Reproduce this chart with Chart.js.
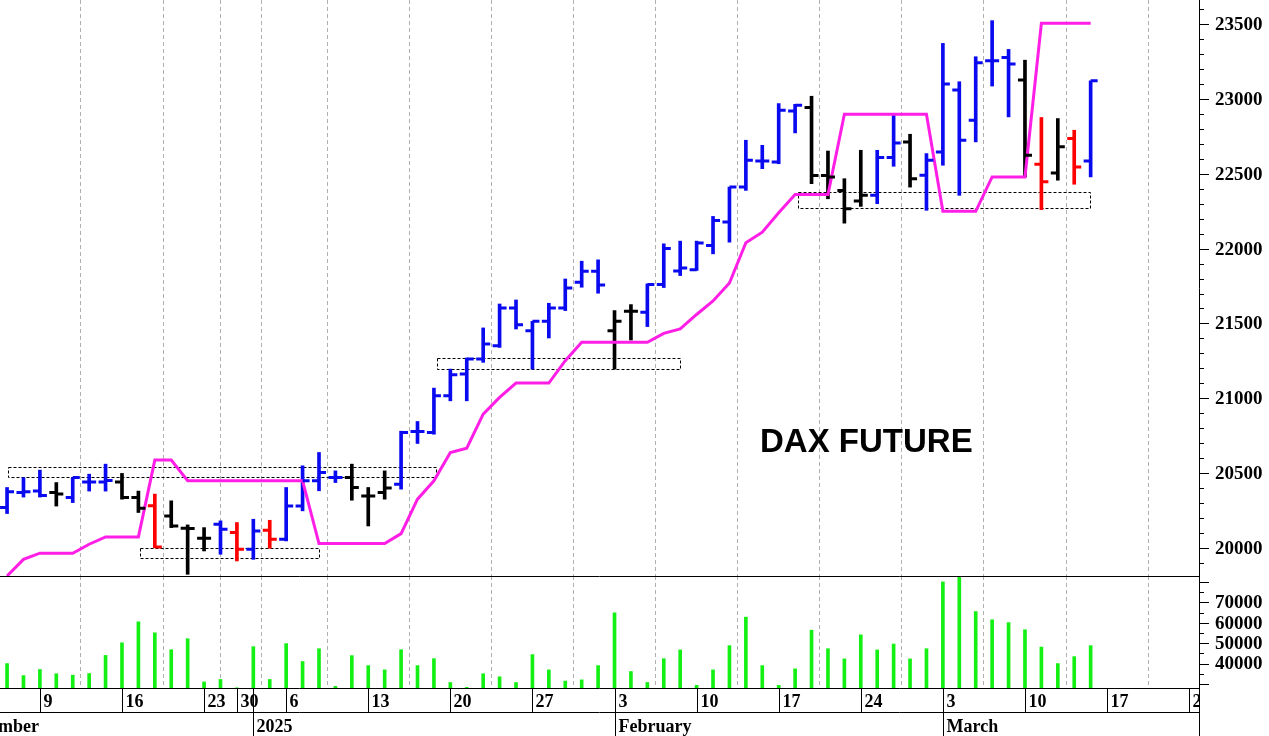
<!DOCTYPE html>
<html><head><meta charset="utf-8">
<script src="https://cdn.jsdelivr.net/npm/chart.js@4"></script>
<style>
html,body{margin:0;padding:0;background:#fff;overflow:hidden}
#w1{position:absolute;left:0;top:0;width:1269px;height:577px}
#w2{position:absolute;left:0;top:576px;width:1269px;height:160px}
</style></head><body>
<div id="w1"><canvas id="c1"></canvas></div>
<div id="w2"><canvas id="c2"></canvas></div>
<script>
const dates = ["Dec 5","Dec 6","Dec 9","Dec 10","Dec 11","Dec 12","Dec 13","Dec 16","Dec 17","Dec 18","Dec 19","Dec 20","Dec 23","Dec 27","Dec 30",
"Jan 2","Jan 3","Jan 6","Jan 7","Jan 8","Jan 9","Jan 10","Jan 13","Jan 14","Jan 15","Jan 16","Jan 17","Jan 20","Jan 21","Jan 22","Jan 23","Jan 24","Jan 27","Jan 28","Jan 29","Jan 30","Jan 31",
"Feb 3","Feb 4","Feb 5","Feb 6","Feb 7","Feb 10","Feb 11","Feb 12","Feb 13","Feb 14","Feb 17","Feb 18","Feb 19","Feb 20","Feb 21","Feb 24","Feb 25","Feb 26","Feb 27","Feb 28",
"Mar 3","Mar 4","Mar 5","Mar 6","Mar 7","Mar 10","Mar 11","Mar 12","Mar 13","Mar 14"];
const opens  = [20270,20370,20380,20370,20337,20440,20440,20440,20337,20282,20214,20132,20065,20159,20103,19991,20118,20058,20281,20449,20470,20470,20348,20370,20426,20778,20772,21017,21162,21262,21351,21603,21452,21514,21603,21775,21849,21452,21581,21574,21760,21850,21858,22021,22177,22411,22585,22579,22920,22942,22489,22389,22318,22356,22608,22712,22490,22646,23059,22858,23255,23277,23126,22564,22506,22736,22586];
const highs  = [20404,20470,20520,20437,20470,20493,20560,20498,20380,20360,20315,20154,20136,20181,20170,20192,20185,20404,20549,20638,20515,20560,20404,20515,20780,20845,21068,21195,21269,21470,21630,21657,21514,21635,21797,21916,21925,21586,21626,21764,22032,22050,22050,22215,22411,22724,22690,22969,22964,23018,22652,22467,22657,22657,22891,22764,22635,23371,23115,23282,23523,23331,23259,22876,22869,22791,23121];
const lows   = [20230,20340,20340,20280,20303,20380,20380,20326,20237,20002,20136,19824,19980,19958,19913,19924,19998,20047,20248,20382,20437,20319,20147,20326,20393,20698,20760,20983,20983,21240,21340,21463,21195,21403,21586,21742,21702,21195,21389,21479,21740,21820,21854,21965,22043,22389,22534,22567,22773,22434,22333,22170,22282,22300,22550,22411,22256,22557,22356,22713,23086,22880,22479,22260,22457,22430,22479];
const closes = [20375,20375,20350,20360,20470,20440,20450,20337,20266,20007,20147,20130,20065,20125,19991,20114,20058,20281,20449,20504,20470,20404,20348,20400,20772,20778,21017,21157,21262,21363,21603,21492,21514,21603,21737,21849,21757,21514,21581,21760,22000,21870,22037,22188,22411,22590,22585,22924,22958,22489,22478,22266,22356,22608,22706,22467,22590,23099,22724,23242,23255,23233,22624,22446,22680,22546,23121];
// bar colour codes (b blue, k black, r red), one per trading day
const barColors = "bbbkbbbkkrkkkbrbrbbbbkkk" + "bbbbbbbbbbbbb" + "kk" + "bbbbbbbbbb" + "kkkk" + "bb" + "k" + "bbbbbb" + "krkrb";
const stopLine = [19813,19924,19965,19965,19965,20025,20074,20074,20074,20587,20587,20449,20449,20449,20449,20449,20449,20449,20449,20029,20029,20029,20029,20029,20096,20326,20449,20638,20667,20894,21006,21102,21102,21102,21251,21374,21374,21374,21374,21374,21434,21463,21560,21650,21770,22039,22110,22240,22362,22362,22362,22898,22898,22898,22898,22898,22898,22249,22249,22249,22479,22479,22479,23505,23505,23505,23505];
const volumes = [40000,34100,37100,35000,34300,35100,44000,50200,60500,55100,46800,52200,31000,32200,28100,48300,32200,49800,41000,47300,28800,43900,39000,36900,46800,39000,42400,30700,28300,35000,33500,30700,44400,36900,31400,32000,39000,64900,36100,30700,42400,46700,29300,36900,48800,62800,39000,29300,37400,56400,47300,42300,54100,46700,49600,42300,47300,80100,85000,65500,61500,60100,56600,48100,40000,43400,48800];
// support zones: [start index, end index, low price, high price]
const zones = [[0.06,26.1,20475,20542],[8.1,19.0,19933,20000],[26.2,41.0,21198,21270],[48.2,66.0,22268,22376]];
// x-axis ticks: [index, label]
const weekTicks = [[2,"9"],[7,"16"],[12,"23"],[14,"30"],[17,"6"],[22,"13"],[27,"20"],[32,"27"],[37,"3"],[42,"10"],[47,"17"],[52,"24"],[57,"3"],[62,"10"],[67,"17"],[72,"24"]];
const monthTicks = [[-0.43,"December"],[15,"2025"],[37,"February"],[57,"March"]];
const priceLabels = [20000,20500,21000,21500,22000,22500,23000,23500];
const volLabels = [40000,50000,60000,70000];
const title = "DAX FUTURE";

const COL = {b:"#0a0af0",k:"#000000",r:"#ff0000"};
const XMIN=-0.43, XMAX=72.6;
const serif = "'Liberation Serif', serif";
const xScale = (h)=>({type:"linear",min:XMIN,max:XMAX,offset:false,
  afterBuildTicks:s=>{s.ticks=weekTicks.map(t=>({value:t[0]}));},
  ticks:{display:false},grid:{color:"#b0b0b0",lineWidth:1,drawTicks:false},border:{display:false,dash:[4,3]},
  afterFit:s=>{s.height=h;}});
const yScale = (mn,mx)=>({position:"right",min:mn,max:mx,
  ticks:{display:false},grid:{display:false,drawTicks:false},border:{display:false},
  afterFit:s=>{s.width=70;}});

function rightAxis(c,sc,minor,major,from,to,labels){
  const ctx=c.ctx,a=c.chartArea;ctx.save();ctx.strokeStyle="#000";ctx.lineWidth=1;
  ctx.beginPath();ctx.moveTo(a.right+0.5,0);ctx.lineTo(a.right+0.5,c.height);ctx.stroke();
  for(let v=from;v<=to;v+=minor){const py=Math.round(sc.getPixelForValue(v))+0.5;
    if(py<a.top+1||py>a.bottom-1)continue;const L=(v%major===0)?10:5;
    ctx.beginPath();ctx.moveTo(a.right,py);ctx.lineTo(a.right+L,py);ctx.stroke();}
  ctx.fillStyle="#000";ctx.font="bold 19px "+serif;ctx.textAlign="left";ctx.textBaseline="middle";
  labels.forEach(v=>ctx.fillText(String(v),a.right+16,sc.getPixelForValue(v)+1));
  ctx.restore();
}
const ohlcPlugin = {id:"ohlc",
  beforeDatasetsDraw(c){
    const {ctx,scales:{x,y}}=c;
    ctx.save();
    ctx.strokeStyle="#000";ctx.setLineDash([3,2]);ctx.lineWidth=1;
    zones.forEach(z=>{const x0=x.getPixelForValue(z[0]),x1=x.getPixelForValue(z[1]);
      const y0=y.getPixelForValue(z[3]),y1=y.getPixelForValue(z[2]);
      ctx.strokeRect(Math.round(x0)+0.5,Math.round(y0)+0.5,Math.round(x1-x0),Math.round(y1-y0));});
    ctx.restore();
  },
  afterDatasetsDraw(c){
    const {ctx,chartArea:a,scales:{x,y}}=c;
    ctx.save();
    ctx.beginPath();ctx.rect(a.left,a.top,a.right-a.left,a.bottom-a.top);ctx.clip();
    ctx.lineWidth=3;ctx.lineCap="butt";
    opens.forEach((o,i)=>{const px=x.getPixelForValue(i);ctx.strokeStyle=COL[barColors[i]];
      ctx.beginPath();ctx.moveTo(px-7,y.getPixelForValue(o));ctx.lineTo(px,y.getPixelForValue(o));
      ctx.moveTo(px,y.getPixelForValue(closes[i]));ctx.lineTo(px+7,y.getPixelForValue(closes[i]));ctx.stroke();});
    ctx.restore();
    ctx.save();
    ctx.font="bold 33px 'Liberation Sans', Arial, sans-serif";ctx.fillStyle="#000";ctx.textBaseline="alphabetic";
    ctx.fillText(title,760,452);
    ctx.restore();
  },
  afterDraw(c){rightAxis(c,c.scales.y,100,500,19900,23600,priceLabels);}
};
const vCol = barColors.split("").map(k=>COL[k]);
new Chart(document.getElementById("c1"),{
  data:{datasets:[
    {type:"bar",data:highs.map((h,i)=>({x:i,y:[lows[i],h]})),backgroundColor:vCol,barThickness:3,grouped:false,order:2},
    {type:"line",data:stopLine.map((v,i)=>({x:i,y:v})),borderColor:"#ff1ee6",borderWidth:3,pointRadius:0,tension:0,order:1}
  ]},
  options:{responsive:true,maintainAspectRatio:false,animation:false,
    layout:{padding:0},
    plugins:{legend:{display:false},tooltip:{enabled:false}},
    scales:{x:xScale(0),y:yScale(19806,23661)}},
  plugins:[ohlcPlugin]
});
const axisPlugin={id:"ax",
  afterDraw(c){
    const {ctx,chartArea:a,scales:{x,y}}=c;
    rightAxis(c,y,5000,10000,25000,85000,volLabels);
    ctx.save();ctx.strokeStyle="#000";ctx.lineWidth=1;
    ctx.beginPath();ctx.moveTo(0,a.top+0.5);ctx.lineTo(a.right,a.top+0.5);
    ctx.moveTo(0,a.bottom+0.5);ctx.lineTo(a.right,a.bottom+0.5);
    ctx.moveTo(0,a.bottom+24.5);ctx.lineTo(a.right,a.bottom+24.5);ctx.stroke();
    ctx.beginPath();ctx.rect(0,a.bottom,a.right,c.height-a.bottom);ctx.clip();
    ctx.fillStyle="#000";ctx.font="bold 18px "+serif;ctx.textBaseline="alphabetic";
    weekTicks.forEach(t=>{const px=Math.round(x.getPixelForValue(t[0]))+0.5;
      ctx.beginPath();ctx.moveTo(px,a.bottom);ctx.lineTo(px,a.bottom+24);ctx.stroke();
      ctx.textAlign="left";ctx.fillText(t[1],px+3,a.bottom+19);});
    monthTicks.forEach((t,i)=>{const px=Math.round(x.getPixelForValue(t[0]))+0.5;
      if(i===0){ctx.textAlign="right";ctx.fillText(t[1],Math.round(x.getPixelForValue(2))-1,a.bottom+44);return;}
      ctx.beginPath();ctx.moveTo(px,a.bottom);ctx.lineTo(px,c.height);ctx.stroke();
      ctx.textAlign="left";ctx.fillText(t[1],px+3,a.bottom+44);});
    ctx.restore();
  }};
new Chart(document.getElementById("c2"),{
  data:{datasets:[{type:"bar",data:volumes.map((v,i)=>({x:i,y:v})),backgroundColor:"#14f014",barThickness:3}]},
  options:{responsive:true,maintainAspectRatio:false,animation:false,
    layout:{padding:0},
    plugins:{legend:{display:false},tooltip:{enabled:false}},
    scales:{x:xScale(48),y:yScale(28000,83000)}},
  plugins:[axisPlugin]
});
</script></body></html>
